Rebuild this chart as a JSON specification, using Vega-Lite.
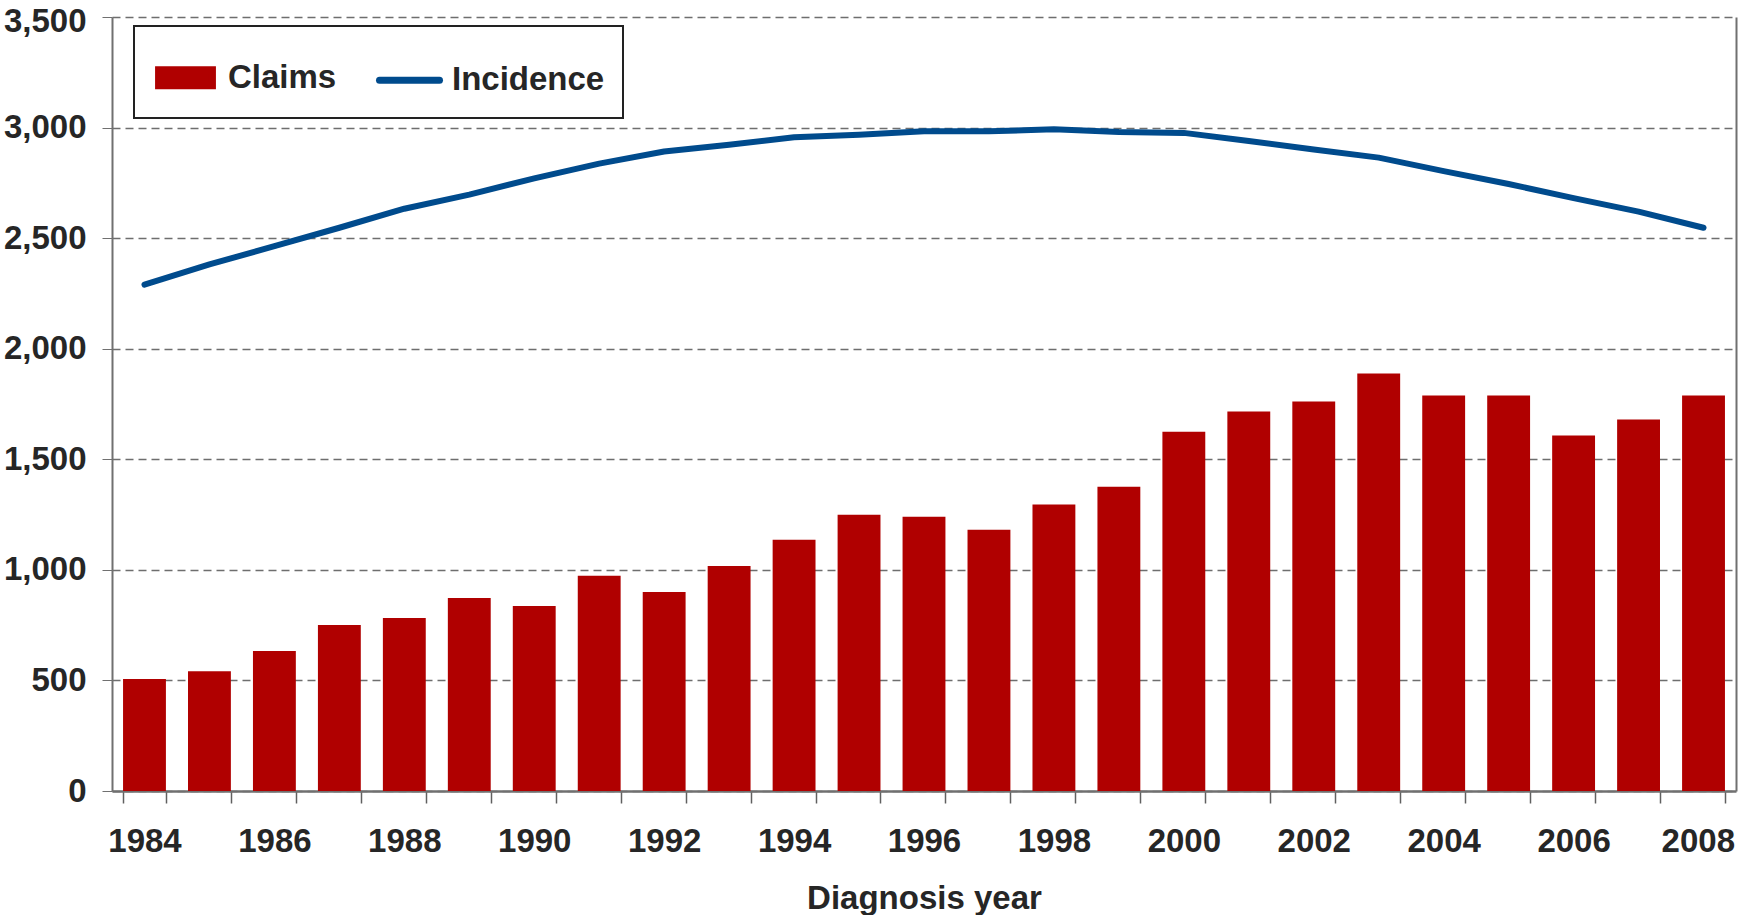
{
  "$schema": "https://vega.github.io/schema/vega-lite/v6.json",
  "autosize": {"type": "none"},
  "width": 1624,
  "height": 774,
  "padding": {"left": 112, "top": 17, "right": 3, "bottom": 124},
  "background": "white",
  "config": {
    "view": {"stroke": null},
    "font": "Liberation Sans",
    "axis": {
      "labelFont": "Liberation Sans",
      "labelFontWeight": "bold",
      "labelFontSize": 33,
      "labelColor": "#262626",
      "titleFont": "Liberation Sans",
      "titleFontWeight": "bold",
      "titleFontSize": 33,
      "titleColor": "#262626"
    },
    "legend": {
      "labelFont": "Liberation Sans",
      "labelFontWeight": "bold",
      "labelFontSize": 33,
      "labelColor": "#262626"
    }
  },
  "data": {
    "values": [
      {"year": 1984, "claims": 506, "incidence": 2290},
      {"year": 1985, "claims": 542, "incidence": 2381},
      {"year": 1986, "claims": 633, "incidence": 2464},
      {"year": 1987, "claims": 751, "incidence": 2547},
      {"year": 1988, "claims": 782, "incidence": 2633},
      {"year": 1989, "claims": 873, "incidence": 2697},
      {"year": 1990, "claims": 837, "incidence": 2770},
      {"year": 1991, "claims": 973, "incidence": 2837},
      {"year": 1992, "claims": 900, "incidence": 2892},
      {"year": 1993, "claims": 1018, "incidence": 2922},
      {"year": 1994, "claims": 1136, "incidence": 2956},
      {"year": 1995, "claims": 1249, "incidence": 2967},
      {"year": 1996, "claims": 1240, "incidence": 2983},
      {"year": 1997, "claims": 1181, "incidence": 2983},
      {"year": 1998, "claims": 1295, "incidence": 2992},
      {"year": 1999, "claims": 1376, "incidence": 2980},
      {"year": 2000, "claims": 1625, "incidence": 2976},
      {"year": 2001, "claims": 1716, "incidence": 2939},
      {"year": 2002, "claims": 1761, "incidence": 2901},
      {"year": 2003, "claims": 1888, "incidence": 2864},
      {"year": 2004, "claims": 1789, "incidence": 2803},
      {"year": 2005, "claims": 1789, "incidence": 2745},
      {"year": 2006, "claims": 1607, "incidence": 2681},
      {"year": 2007, "claims": 1680, "incidence": 2620},
      {"year": 2008, "claims": 1789, "incidence": 2547}
    ]
  },
  "encoding": {
    "x": {
      "field": "year",
      "type": "ordinal",
      "scale": {"paddingInner": 0.34, "paddingOuter": 0.17},
      "axis": {
        "title": "Diagnosis year",
        "labelAngle": 0,
        "labelExpr": "datum.value % 2 === 0 ? datum.label : ''",
        "labelAlign": {"condition": {"test": "datum.value == 2008", "value": "right"}, "value": "center"},
        "labelOffset": {"condition": {"test": "datum.value == 2008", "value": 31}, "value": 0},
        "tickBand": "extent",
        "tickSize": 12,
        "tickColor": "#606060",
        "tickWidth": 1.5,
        "domainColor": "#707070",
        "domainWidth": 2.5,
        "labelPadding": 22,
        "titlePadding": 24,
        "grid": false
      }
    }
  },
  "layer": [
    {
      "mark": {"type": "bar", "color": "#B00000"},
      "encoding": {
        "y": {
          "field": "claims",
          "type": "quantitative",
          "scale": {"domain": [0, 3500], "nice": false},
          "axis": {
            "title": null,
            "values": [0, 500, 1000, 1500, 2000, 2500, 3000, 3500],
            "format": ",d",
            "grid": true,
            "gridColor": "#6e6e6e",
            "gridDash": [8, 5],
            "gridWidth": 1.3,
            "tickSize": 10,
            "tickColor": "#707070",
            "domainColor": "#707070",
            "domainWidth": 2,
            "labelPadding": 16,
            "labelOffset": {"condition": {"test": "datum.value == 3500", "value": 4}, "value": 0}
          }
        },
        "color": {
          "datum": "Claims",
          "type": "nominal",
          "scale": {"domain": ["Claims", "Incidence"], "range": ["#B00000", "#004B8D"]},
          "legend": {
            "title": null,
            "orient": "none",
            "legendX": 22,
            "legendY": 9,
            "direction": "horizontal",
            "padding": 18,
            "strokeColor": "#222222",
            "fillColor": "white",
            "symbolSize": 2500,
            "labelOffset": 9,
            "columnPadding": 28,
            "encode": {
              "legend": {"update": {"strokeWidth": {"value": 2}}},
              "symbols": {
                "update": {
                  "shape": {"signal": "datum.value === 'Claims' ? 'M-1,-0.3H1V0.3H-1Z' : 'M-1,0H1'"},
                  "size": {"signal": "datum.value === 'Claims' ? 2900 : 3600"},
                  "fill": {"signal": "datum.value === 'Claims' ? '#B00000' : 'transparent'"},
                  "stroke": {"signal": "datum.value === 'Claims' ? 'transparent' : '#004B8D'"},
                  "strokeWidth": {"value": 7},
                  "strokeCap": {"value": "round"},
                  "opacity": {"value": 1}
                }
              }
            }
          }
        }
      }
    },
    {
      "mark": {"type": "line", "color": "#004B8D", "strokeWidth": 6, "strokeCap": "round", "strokeJoin": "round"},
      "encoding": {
        "y": {
          "field": "incidence",
          "type": "quantitative",
          "scale": {"domain": [0, 3500], "nice": false},
          "axis": {
            "orient": "right",
            "title": null,
            "labels": false,
            "ticks": false,
            "grid": false,
            "domainColor": "#707070",
            "domainWidth": 2
          }
        },
        "color": {"datum": "Incidence", "type": "nominal"}
      }
    }
  ],
  "resolve": {"axis": {"y": "independent"}}
}
